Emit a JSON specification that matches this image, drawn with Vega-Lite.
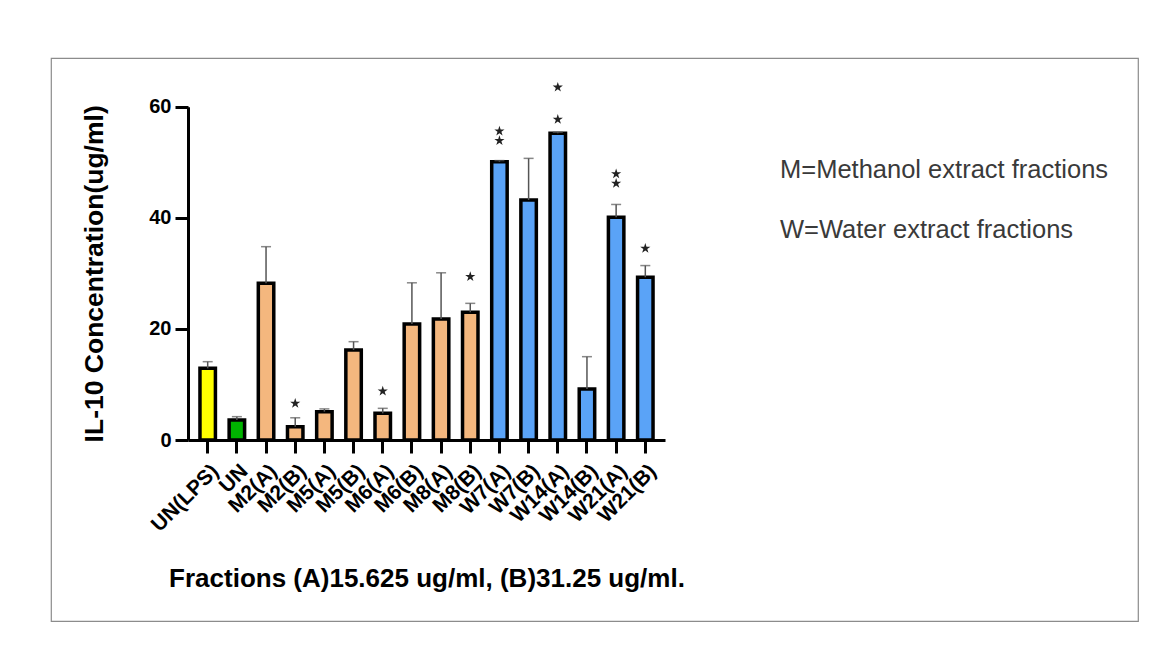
{
  "$schema": "https://vega.github.io/schema/vega-lite/v6.json",
  "width": 1087,
  "height": 563,
  "autosize": {"type": "none"},
  "padding": {"left": 51, "top": 58, "right": 30, "bottom": 32},
  "background": "white",
  "config": {
    "view": {"stroke": "#8c8c8c", "strokeWidth": 1.2},
    "font": "Liberation Sans"
  },
  "title": {
    "text": ["M=Methanol extract fractions", "W=Water extract fractions"],
    "anchor": "start",
    "frame": "group",
    "orient": "top",
    "offset": 0,
    "dx": 729,
    "dy": 185,
    "fontSize": 25.5,
    "font": "Liberation Sans",
    "fontWeight": "normal",
    "color": "#3a3a3a",
    "lineHeight": 60
  },
  "datasets": {
    "bars": [
      {"name": "UN(LPS)", "group": "LPS", "value": 12.9, "err": 14.1},
      {"name": "UN", "group": "UN", "value": 3.6, "err": 4.2},
      {"name": "M2(A)", "group": "M", "value": 28.2, "err": 34.8},
      {"name": "M2(B)", "group": "M", "value": 2.4, "err": 4.0},
      {"name": "M5(A)", "group": "M", "value": 5.1, "err": 5.6},
      {"name": "M5(B)", "group": "M", "value": 16.2, "err": 17.7},
      {"name": "M6(A)", "group": "M", "value": 4.8, "err": 5.7},
      {"name": "M6(B)", "group": "M", "value": 20.9, "err": 28.3},
      {"name": "M8(A)", "group": "M", "value": 21.8, "err": 30.1},
      {"name": "M8(B)", "group": "M", "value": 23.0, "err": 24.6},
      {"name": "W7(A)", "group": "W", "value": 50.1, "err": 50.3},
      {"name": "W7(B)", "group": "W", "value": 43.2, "err": 50.7},
      {"name": "W14(A)", "group": "W", "value": 55.2, "err": 55.4},
      {"name": "W14(B)", "group": "W", "value": 9.2, "err": 15.0},
      {"name": "W21(A)", "group": "W", "value": 40.1, "err": 42.4},
      {"name": "W21(B)", "group": "W", "value": 29.3, "err": 31.4}
    ],
    "stars": [
      {"name": "M2(B)", "pos": 6.6},
      {"name": "M6(A)", "pos": 8.8},
      {"name": "M8(B)", "pos": 29.4},
      {"name": "W7(A)", "pos": 53.9},
      {"name": "W7(A)", "pos": 55.6},
      {"name": "W14(A)", "pos": 57.7},
      {"name": "W14(A)", "pos": 63.5},
      {"name": "W21(A)", "pos": 46.2},
      {"name": "W21(A)", "pos": 47.9},
      {"name": "W21(B)", "pos": 34.5}
    ]
  },
  "encoding": {
    "x": {
      "field": "name",
      "type": "nominal",
      "sort": ["UN(LPS)", "UN", "M2(A)", "M2(B)", "M5(A)", "M5(B)", "M6(A)", "M6(B)", "M8(A)", "M8(B)", "W7(A)", "W7(B)", "W14(A)", "W14(B)", "W21(A)", "W21(B)"],
      "scale": {"type": "band", "range": [137, 614], "paddingInner": 0.47, "paddingOuter": 0.41},
      "axis": {
        "orient": "bottom",
        "offset": -181,
        "domainWidth": 3,
        "domainColor": "black",
        "tickWidth": 3,
        "tickSize": 13,
        "tickColor": "black",
        "labelAngle": -45,
        "labelFont": "Liberation Sans",
        "labelFontSize": 21,
        "labelFontWeight": "bold",
        "labelColor": "black",
        "labelPadding": 7,
        "title": "Fractions (A)15.625 ug/ml, (B)31.25 ug/ml.",
        "titleFont": "Liberation Sans",
        "titleFontSize": 26,
        "titleFontWeight": "bold",
        "titleColor": "black",
        "titlePadding": 30
      }
    }
  },
  "layer": [
    {
      "data": {"name": "bars"},
      "mark": {"type": "bar", "stroke": "black", "strokeWidth": 3.5, "clip": false},
      "encoding": {
        "y": {
          "field": "value",
          "type": "quantitative",
          "scale": {"domain": [0, 60], "range": [382, 48.7], "nice": false, "zero": true},
          "axis": {
            "orient": "left",
            "offset": -137,
            "values": [0, 20, 40, 60],
            "grid": false,
            "domainWidth": 3,
            "domainColor": "black",
            "tickWidth": 3,
            "tickSize": 13,
            "tickColor": "black",
            "labelFont": "Liberation Sans",
            "labelFontSize": 20,
            "labelFontWeight": "bold",
            "labelColor": "black",
            "labelPadding": 4,
            "title": "IL-10 Concentration(ug/ml)",
            "titleFont": "Liberation Sans",
            "titleFontSize": 26.5,
            "titleFontWeight": "bold",
            "titleColor": "black",
            "titlePadding": 40
          }
        },
        "fill": {
          "field": "group",
          "type": "nominal",
          "scale": {"domain": ["LPS", "UN", "M", "W"], "range": ["#FFFF00", "#00B400", "#F4B77E", "#5AA3F7"]},
          "legend": null
        }
      }
    },
    {
      "data": {"name": "bars"},
      "mark": {"type": "rule", "color": "#555555", "strokeWidth": 1.5},
      "encoding": {
        "y": {"field": "value", "type": "quantitative"},
        "y2": {"field": "err"}
      }
    },
    {
      "data": {"name": "bars"},
      "mark": {"type": "tick", "color": "#555555", "thickness": 1.5, "size": 10, "orient": "horizontal"},
      "encoding": {
        "y": {"field": "err", "type": "quantitative"}
      }
    },
    {
      "data": {"name": "stars"},
      "mark": {"type": "point", "shape": "M0,-1L0.2245,-0.309L0.951,-0.309L0.363,0.118L0.588,0.809L0,0.382L-0.588,0.809L-0.363,0.118L-0.951,-0.309L-0.2245,-0.309Z", "filled": true, "color": "#222222", "size": 115, "opacity": 1, "clip": false},
      "encoding": {
        "y": {"field": "pos", "type": "quantitative"}
      }
    }
  ]
}
